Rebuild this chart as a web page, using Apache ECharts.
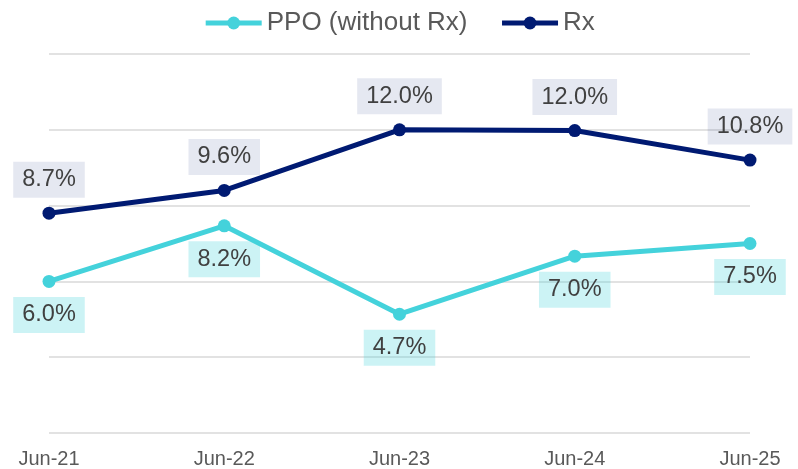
<!DOCTYPE html>
<html>
<head>
<meta charset="utf-8">
<script src="https://cdn.jsdelivr.net/npm/echarts@6/dist/echarts.min.js"></script>
<style>
  html, body { margin: 0; padding: 0; background: #fff; }
  #chart { width: 798px; height: 469px; }
</style>
</head>
<body>
<div id="chart"></div>
<script>
// data
var periods = ['Jun-21', 'Jun-22', 'Jun-23', 'Jun-24', 'Jun-25'];
var ppoValues = [6.0, 8.2, 4.7, 7.0, 7.5];
var rxValues = [8.7, 9.6, 12.0, 11.97, 10.8];
var seriesNames = ['PPO (without Rx)', 'Rx'];

var ppoColor = '#44d2db';
var rxColor = '#001a72';
var fontFamily = '"Liberation Sans", Arial, sans-serif';

var chart = echarts.init(document.getElementById('chart'));

function pctLabel(pos, bg) {
    return {
        show: true,
        position: pos,
        distance: 9,
        formatter: function (p) { return p.value.toFixed(1) + '%'; },
        color: '#404040',
        fontSize: 23.5,
        fontFamily: fontFamily,
        backgroundColor: bg,
        padding: [6, 9, 6, 9]
    };
}

var option = {
    backgroundColor: '#fff',
    animation: false,
    legend: {
        top: 5,
        left: 'center',
        itemWidth: 56,
        itemHeight: 16,
        itemGap: 32,
        lineStyle: { width: 5 },
        textStyle: { color: '#595959', fontSize: 26, fontFamily: fontFamily },
        data: seriesNames
    },
    grid: {
        left: 49,
        right: 48,
        top: 54,
        bottom: 36
    },
    xAxis: {
        type: 'category',
        data: periods,
        boundaryGap: false,
        axisLine: { show: false },
        axisTick: { show: false },
        axisLabel: {
            color: '#595959',
            fontSize: 20,
            fontFamily: fontFamily,
            margin: 16
        }
    },
    yAxis: {
        type: 'value',
        min: 0,
        max: 15,
        interval: 3,
        axisLabel: { show: false },
        axisLine: { show: false },
        axisTick: { show: false },
        splitLine: { lineStyle: { color: '#d9d9d9', width: 1.5 } }
    },
    series: [{
        name: seriesNames[0],
        type: 'line',
        data: ppoValues,
        symbol: 'circle',
        symbolSize: 13,
        lineStyle: { color: ppoColor, width: 5 },
        itemStyle: { color: ppoColor },
        label: pctLabel('bottom', 'rgba(68,210,219,0.27)')
    }, {
        name: seriesNames[1],
        type: 'line',
        data: rxValues,
        symbol: 'circle',
        symbolSize: 13,
        lineStyle: { color: rxColor, width: 5 },
        itemStyle: { color: rxColor },
        label: pctLabel('top', 'rgba(0,26,114,0.1)')
    }]
};

chart.setOption(option);
</script>
</body>
</html>
